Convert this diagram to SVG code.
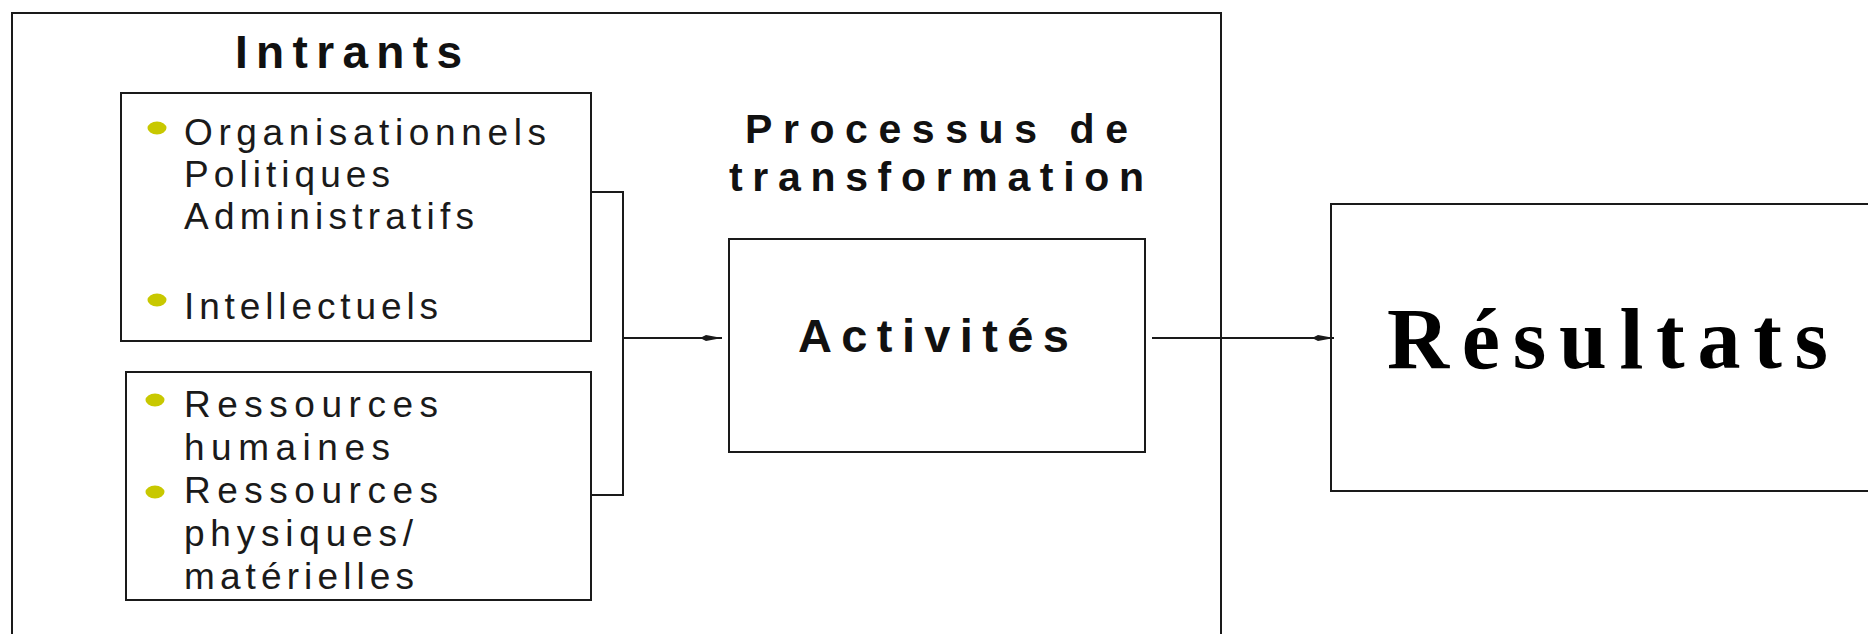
<svg xmlns="http://www.w3.org/2000/svg" width="1868" height="634" viewBox="0 0 1868 634">
<style>
.box{fill:none;stroke:#1a1a1a;stroke-width:2}
.conn{fill:none;stroke:#1a1a1a;stroke-width:2}
.body{font-family:"Liberation Sans",Arial,sans-serif;font-size:37px;fill:#1a1a1a}
.head{font-family:"Liberation Sans",Arial,sans-serif;font-weight:bold;fill:#111}
.res{font-family:"Liberation Serif","Times New Roman",serif;font-weight:bold;font-size:86px;fill:#000}
.bullet{fill:#c8c800}
</style>
<defs>
<marker id="arr" markerWidth="24" markerHeight="8" refX="22" refY="4" orient="auto" markerUnits="userSpaceOnUse">
<path d="M0,4 L6,1 L22,4 L6,7 Z" fill="#1a1a1a"/>
</marker>
</defs>
<rect width="1868" height="634" fill="#fff"/>
<g id="outer">
<rect class="box" x="12" y="13" width="1209" height="660"/>
</g>
<g id="intrants-title">
<text class="head" x="235" y="68" font-size="46" textLength="227" lengthAdjust="spacing">Intrants</text>
</g>
<g id="intrants-box1">
<rect class="box" x="121" y="93" width="470" height="248"/>
<ellipse class="bullet" cx="157" cy="128" rx="9.5" ry="6.5"/>
<ellipse class="bullet" cx="157" cy="300" rx="9.5" ry="6.5"/>
<text class="body" x="184" y="145" textLength="362" lengthAdjust="spacing">Organisationnels</text>
<text class="body" x="184" y="187" textLength="206" lengthAdjust="spacing">Politiques</text>
<text class="body" x="184" y="229" textLength="290" lengthAdjust="spacing">Administratifs</text>
<text class="body" x="184" y="319" textLength="254" lengthAdjust="spacing">Intellectuels</text>
</g>
<g id="intrants-box2">
<rect class="box" x="126" y="372" width="465" height="228"/>
<ellipse class="bullet" cx="155" cy="400" rx="9.5" ry="6.5"/>
<ellipse class="bullet" cx="155" cy="492" rx="9.5" ry="6.5"/>
<text class="body" x="184" y="417" textLength="254" lengthAdjust="spacing">Ressources</text>
<text class="body" x="184" y="460" textLength="206" lengthAdjust="spacing">humaines</text>
<text class="body" x="184" y="503" textLength="254" lengthAdjust="spacing">Ressources</text>
<text class="body" x="184" y="546" textLength="229" lengthAdjust="spacing">physiques/</text>
<text class="body" x="184" y="589" textLength="230" lengthAdjust="spacing">matérielles</text>
</g>
<g id="processus-title">
<text class="head" x="745" y="143" font-size="41" textLength="383" lengthAdjust="spacing">Processus de</text>
<text class="head" x="729" y="191" font-size="41" textLength="415" lengthAdjust="spacing">transformation</text>
</g>
<g id="activites">
<rect class="box" x="729" y="239" width="416" height="213"/>
<text class="head" x="798" y="352" font-size="47" textLength="271" lengthAdjust="spacing">Activités</text>
</g>
<g id="resultats">
<rect class="box" x="1331" y="204" width="560" height="287"/>
<text class="res" x="1387" y="368" textLength="441" lengthAdjust="spacing">Résultats</text>
</g>
<g id="connectors">
<path class="conn" d="M591,192 H623 V495 H591"/>
<line class="conn" x1="623" y1="338" x2="722" y2="338" marker-end="url(#arr)"/>
<line class="conn" x1="1152" y1="338" x2="1334" y2="338" marker-end="url(#arr)"/>
</g>
</svg>
